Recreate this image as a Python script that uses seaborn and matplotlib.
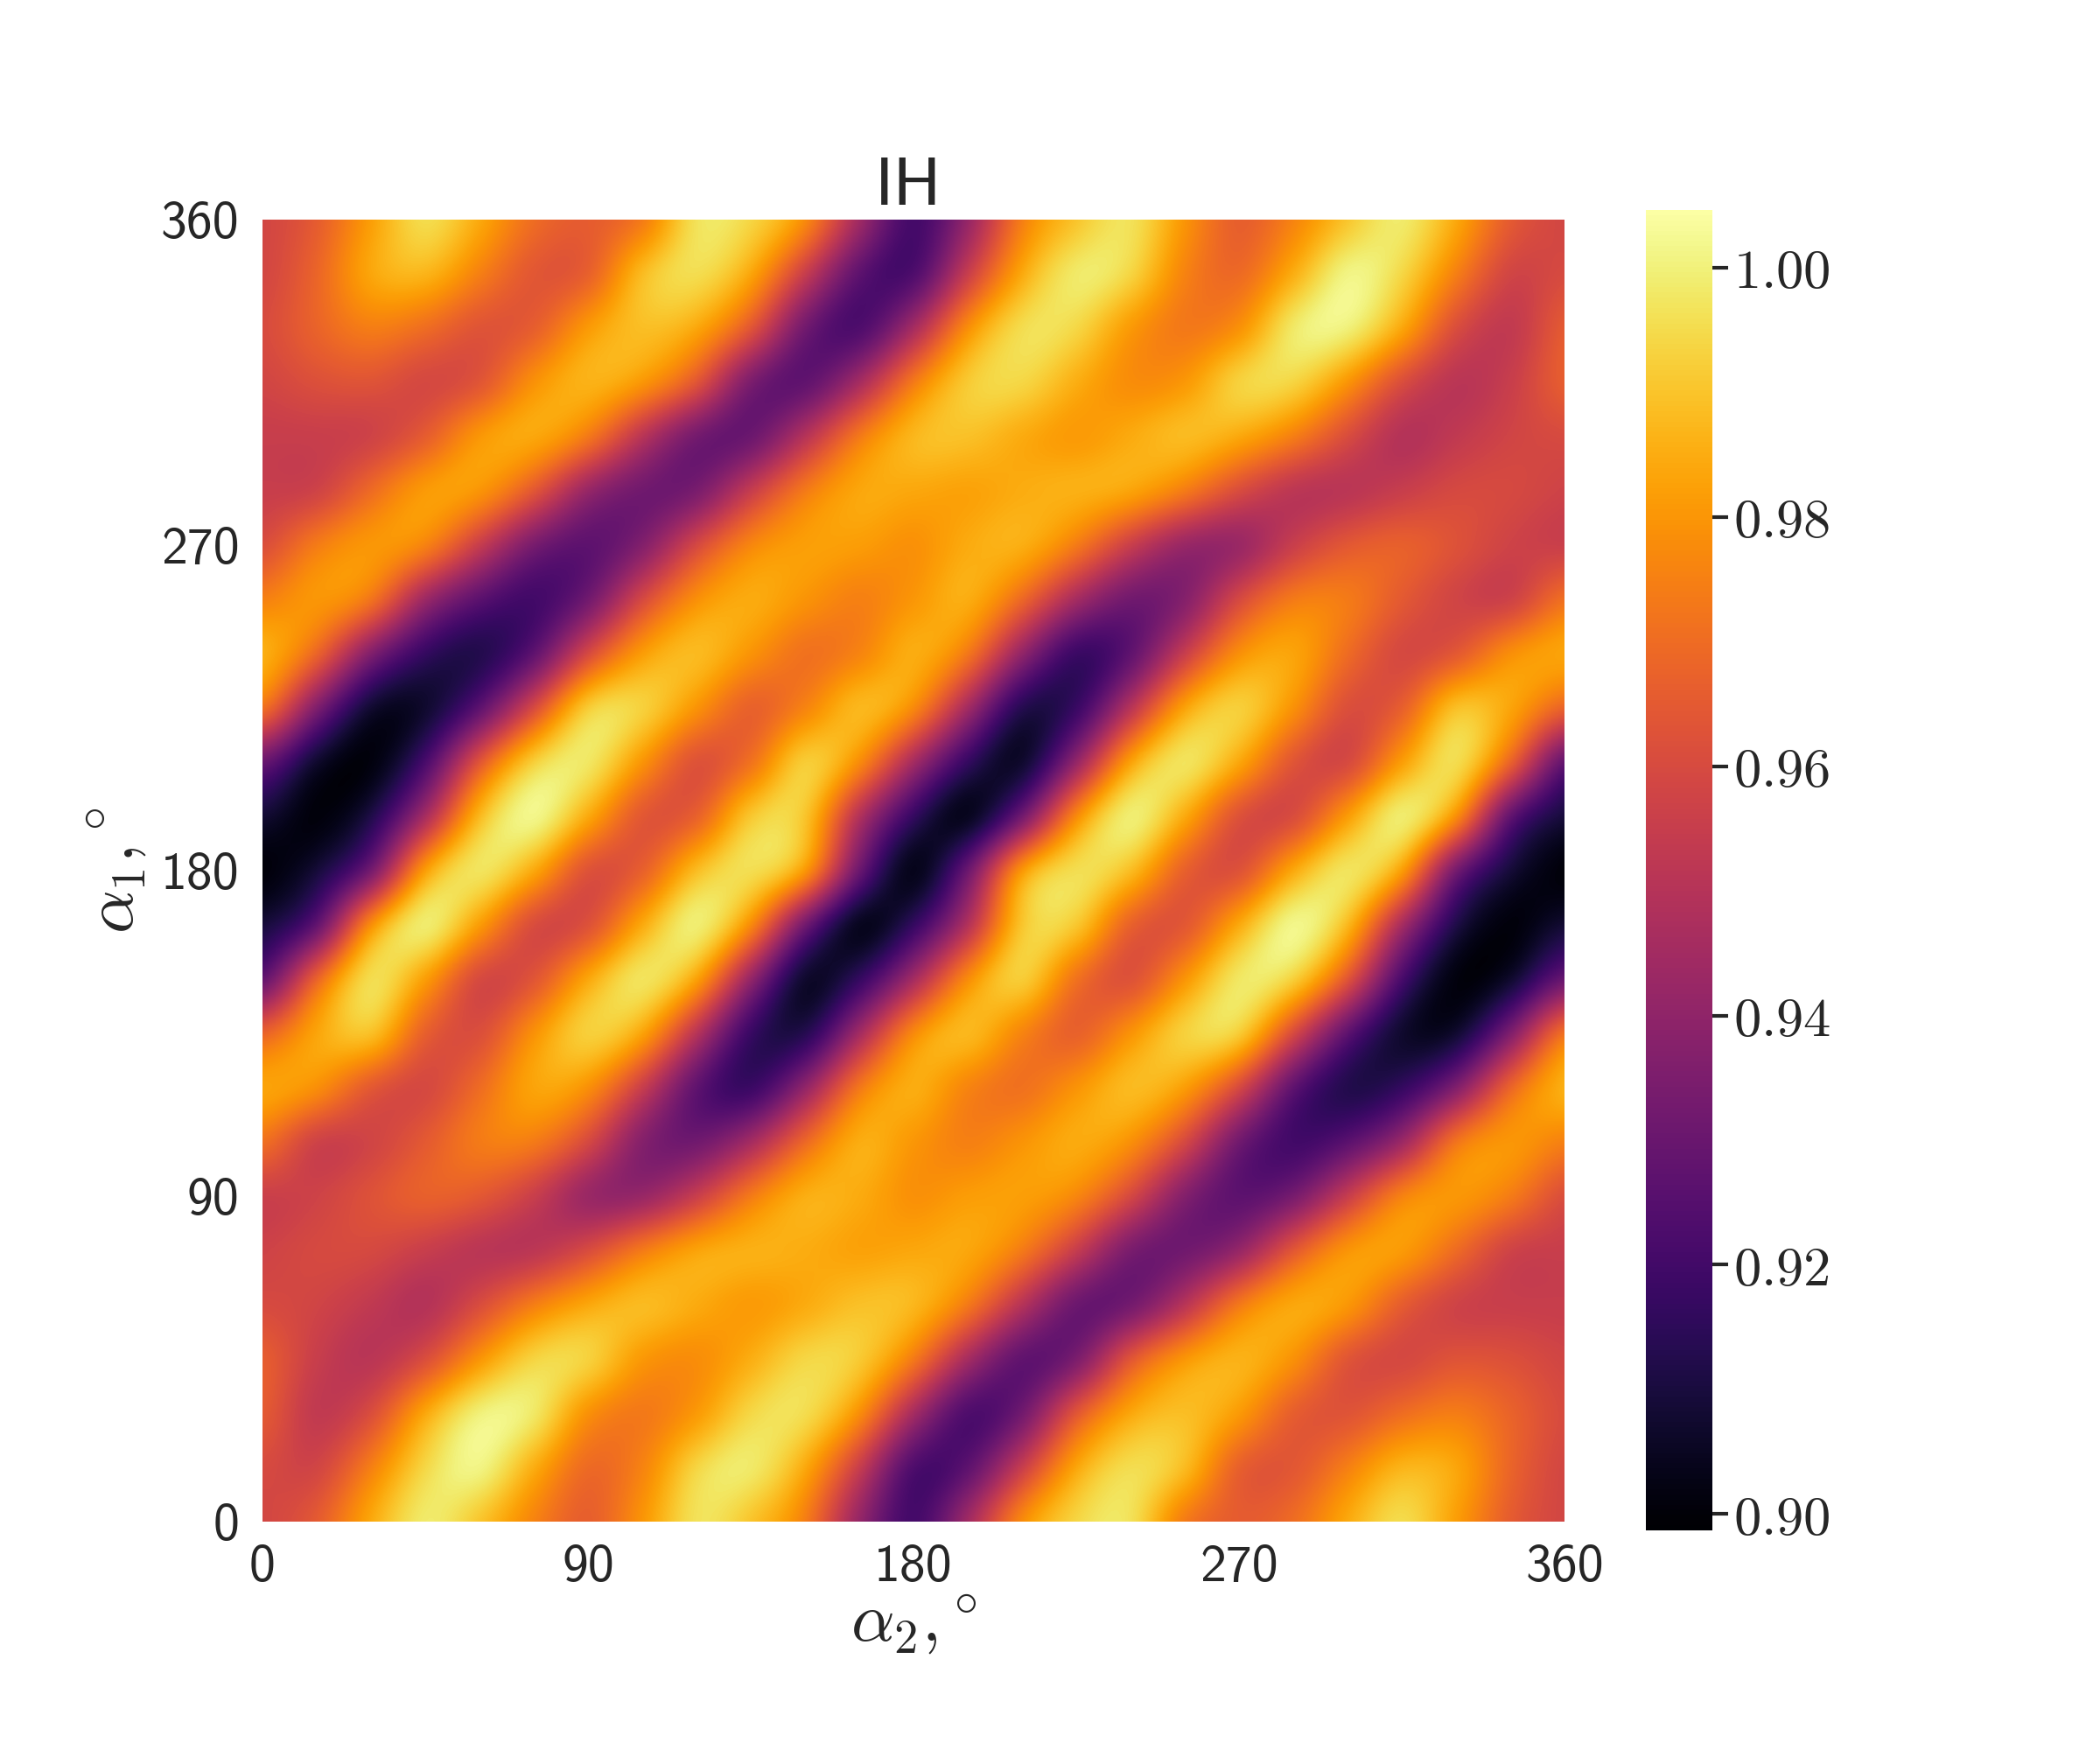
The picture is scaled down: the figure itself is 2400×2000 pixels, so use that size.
import numpy as np
import matplotlib.pyplot as plt
import seaborn as sns

# values every 15 degrees, alpha_2 runs 0..360 left to right
a1_360 = [.958,.965,.982,.997,.985,.970,.965,.972,.998,.995,.980,.945,.918,.940,.975,.990,.998,.980,.965,.975,.990,1.000,.985,.965,.958]
a1_345 = [.958,.968,.985,.988,.975,.963,.965,.990,.997,.985,.955,.925,.920,.955,.985,1.000,.995,.975,.968,.985,1.003,.995,.975,.957,.960]
a1_330 = [.960,.968,.975,.970,.962,.965,.982,.990,.985,.965,.930,.920,.945,.980,.997,.995,.980,.972,.978,1.000,1.002,.985,.960,.952,.966]
a1_315 = [.958,.962,.963,.958,.962,.980,.988,.982,.965,.932,.925,.945,.975,.993,.995,.985,.977,.980,.995,.995,.980,.960,.950,.955,.967]
a1_300 = [.955,.955,.956,.965,.982,.986,.975,.950,.930,.928,.950,.975,.989,.990,.984,.980,.985,.990,.985,.975,.960,.948,.953,.958,.960]
a1_285 = [.955,.956,.970,.983,.982,.965,.940,.930,.932,.955,.975,.985,.984,.982,.985,.987,.985,.975,.960,.950,.950,.955,.960,.960,.957]
a1_270 = [.960,.975,.982,.978,.955,.932,.925,.935,.960,.978,.983,.982,.978,.985,.987,.975,.955,.940,.940,.955,.965,.968,.963,.957,.955]
a1_255 = [.975,.982,.975,.942,.925,.918,.930,.960,.980,.986,.980,.974,.980,.987,.970,.945,.930,.935,.960,.975,.975,.965,.957,.955,.972]
a1_240 = [.988,.970,.935,.915,.910,.925,.960,.983,.990,.980,.970,.975,.987,.975,.940,.915,.925,.955,.980,.985,.970,.958,.963,.980,.985]
a1_225 = [.975,.935,.905,.905,.925,.960,.995,.995,.980,.965,.975,.990,.980,.945,.910,.915,.950,.985,.995,.980,.960,.965,.992,.985,.968]
a1_210 = [.930,.905,.899,.920,.965,.995,1.000,.980,.960,.970,.995,.980,.945,.915,.903,.940,.985,1.000,.985,.962,.957,.982,.999,.970,.925]
a1_195 = [.908,.899,.910,.945,.990,1.005,.985,.962,.965,.993,.993,.948,.915,.900,.930,.980,1.003,.985,.960,.958,.982,1.003,.982,.925,.908]
a1_180 = [.899,.908,.930,.985,1.000,.985,.960,.965,.990,.998,.985,.930,.899,.930,.985,.998,.990,.965,.960,.985,1.000,.985,.930,.908,.899]
a1_165 = [.908,.925,.982,1.003,.982,.958,.960,.985,1.003,.980,.930,.900,.915,.948,.993,.993,.965,.962,.985,1.005,.990,.945,.910,.899,.908]
a1_150 = [.925,.970,.999,.982,.957,.962,.985,1.000,.985,.940,.903,.915,.945,.980,.995,.970,.960,.980,1.000,.995,.965,.920,.899,.905,.930]
a1_135 = [.968,.985,.992,.965,.960,.980,.995,.985,.950,.915,.910,.945,.980,.990,.975,.965,.980,.995,.995,.960,.925,.905,.905,.935,.975]
a1_120 = [.985,.980,.963,.958,.970,.985,.980,.955,.925,.915,.940,.975,.987,.975,.970,.980,.990,.983,.960,.925,.910,.915,.935,.970,.988]
a1_105 = [.972,.955,.957,.965,.975,.975,.960,.935,.930,.945,.970,.987,.980,.974,.980,.986,.980,.960,.930,.918,.925,.942,.975,.982,.975]
a1_90 = [.955,.957,.963,.968,.965,.955,.940,.940,.955,.975,.987,.985,.978,.982,.983,.978,.960,.935,.925,.932,.955,.978,.982,.975,.960]
a1_75 = [.957,.960,.960,.955,.950,.950,.960,.975,.985,.987,.985,.982,.984,.985,.975,.955,.932,.930,.940,.965,.982,.983,.970,.956,.955]
a1_60 = [.960,.958,.953,.948,.960,.975,.985,.990,.985,.980,.984,.990,.989,.975,.950,.928,.930,.950,.975,.986,.982,.965,.956,.955,.955]
a1_45 = [.967,.955,.950,.960,.980,.995,.995,.980,.977,.985,.995,.993,.975,.945,.925,.932,.965,.982,.988,.980,.962,.958,.963,.962,.958]
a1_30 = [.966,.952,.960,.985,1.002,1.000,.978,.972,.980,.995,.997,.980,.945,.920,.930,.965,.985,.990,.982,.965,.962,.970,.975,.968,.960]
a1_15 = [.960,.957,.975,.995,1.003,.985,.968,.975,.995,1.000,.985,.955,.920,.925,.955,.985,.997,.990,.965,.963,.975,.988,.985,.968,.958]
a1_0 = [.958,.965,.985,1.000,.990,.975,.965,.980,.998,.990,.975,.940,.918,.945,.980,.995,.998,.972,.965,.970,.985,.997,.982,.965,.958]

tick_labels = [0, 90, 180, 270, 360]
cbar_ticks = [0.90, 0.92, 0.94, 0.96, 0.98, 1.00]

grid = np.array([a1_0, a1_15, a1_30, a1_45, a1_60, a1_75, a1_90, a1_105, a1_120,
                 a1_135, a1_150, a1_165, a1_180, a1_195, a1_210, a1_225, a1_240,
                 a1_255, a1_270, a1_285, a1_300, a1_315, a1_330, a1_345, a1_360])

sns.set_theme(style='white')
plt.rcParams['mathtext.fontset'] = 'cm'

fig = plt.figure(figsize=(12, 10), dpi=200)
ax = fig.add_axes([300 / 2400, 1 - 1739 / 2000, 1488 / 2400, 1488 / 2000])
cax = fig.add_axes([1881 / 2400, 1 - 1749 / 2000, 76 / 2400, 1509 / 2000])

sns.heatmap(grid, ax=ax, cbar_ax=cax, cmap='inferno', vmin=0.8987, vmax=1.0046)

# the original map is much finer than the 15 degree grid read here, so shade
# the same cells smoothly on top with the heatmap's own colour scale
mesh = ax.collections[0]
ax.imshow(grid, cmap=mesh.cmap, norm=mesh.norm, origin='lower', aspect='auto',
          extent=(-0.5, 24.5, -0.5, 24.5), interpolation='mitchell',
          interpolation_stage='data', zorder=2)

last = grid.shape[0] - 1
ax.set_xlim(0, last)
ax.set_ylim(0, last)
pos = np.linspace(0, last, len(tick_labels))
ax.set_xticks(pos)
ax.set_yticks(pos)
ax.set_xticklabels(tick_labels, rotation=0, fontsize=21.5, fontname='cmss10')
ax.set_yticklabels(tick_labels, rotation=0, fontsize=21.5, fontname='cmss10', va='center_baseline')
ax.tick_params(length=0, pad=9.5)

ax.set_title('IH', fontsize=28, pad=6, fontname='cmss10', x=0.496)
ax.set_xlabel(r'$\alpha_2,\!^\circ$', fontsize=28, labelpad=-1)
ax.set_ylabel(r'$\alpha_1,\!^\circ$', fontsize=28, labelpad=5)

cax.set_yticks(cbar_ticks)
cax.set_yticklabels([rf'${t:.2f}$' for t in cbar_ticks], fontsize=22.5)
cax.tick_params(axis='y', length=6.5, width=1.5, pad=2, color='.15', right=True)

fig.savefig('out.png', dpi=200)
